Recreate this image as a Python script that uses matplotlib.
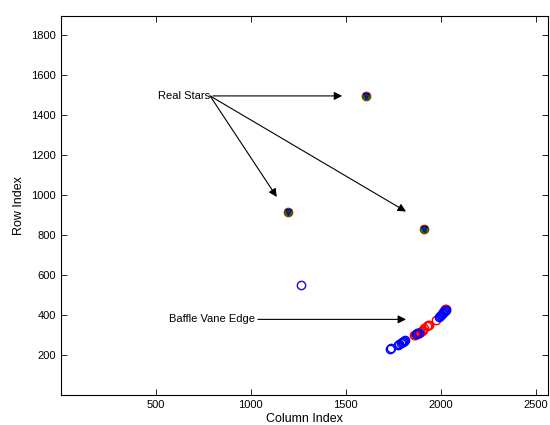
import matplotlib
matplotlib.use('Agg')
import matplotlib.pyplot as plt

# star detections (three overlaid markers each)
star_x = [1608, 1198, 1913]
star_y = [1497, 913, 832]

# lone detection
lone_x = [1266]
lone_y = [548]

# baffle vane edge detections
blue_x = [1735, 1738, 1775, 1780, 1790, 1795, 1800, 1805, 1808, 1815, 1870, 1878, 1885,
          1990, 1995, 2000, 2005, 2010, 2015, 2018, 2022, 2028]
blue_y = [232, 234, 252, 255, 262, 264, 266, 268, 270, 276, 305, 308, 312,
          392, 396, 402, 405, 410, 414, 418, 422, 426]
red_x = [1860, 1865, 1875, 1880, 1885, 1890, 1900, 1905, 1915, 1930, 1935, 1940, 1976, 2025, 2030]
red_y = [300, 302, 306, 309, 312, 316, 320, 324, 335, 346, 349, 352, 375, 428, 432]

plt.rcParams['font.family'] = ['Liberation Sans', 'DejaVu Sans']
plt.rcParams['font.size'] = 8

fig = plt.figure(figsize=(5.5, 4.25), dpi=100)
ax = fig.add_axes([0.11, 0.0706, 0.8864, 0.892])

ax.plot(red_x, red_y, 'o', mfc='none', mec='red', ms=6, mew=1)
ax.plot(blue_x, blue_y, 'o', mfc='none', mec='blue', ms=6, mew=1)
ax.plot(lone_x, lone_y, 'o', mfc='none', mec='blue', ms=6, mew=1)
ax.plot(lone_x, lone_y, 'o', mfc='none', mec='red', ms=6, mew=0.4, alpha=0.6)

ax.plot(star_x, star_y, 'o', mfc='none', mec='red', ms=6, mew=1)
ax.plot(star_x, star_y, 'o', mfc='green', mec='green', ms=5)
ax.plot(star_x, star_y, 'v', mfc='#2020c0', mec='#101060', ms=5, mew=0.8)

arrow = dict(arrowstyle='-|>', color='k', lw=0.8, mutation_scale=12, shrinkA=0, shrinkB=0)
ax.annotate('Real Stars', xy=(1482, 1495), xytext=(787, 1495), ha='right', va='center', arrowprops=arrow)
ax.annotate('', xy=(1138, 990), xytext=(787, 1495), arrowprops=arrow)
ax.annotate('', xy=(1818, 917), xytext=(787, 1495), arrowprops=arrow)
ax.annotate('Baffle Vane Edge', xy=(1818, 378), xytext=(1024, 378), ha='right', va='center', arrowprops=arrow)

ax.set_xlim(0, 2565)
ax.set_ylim(0, 1895)
ax.set_xticks([500, 1000, 1500, 2000, 2500])
ax.set_yticks([200, 400, 600, 800, 1000, 1200, 1400, 1600, 1800])
ax.tick_params(direction='in', top=True, right=True, length=4, width=0.6)
for s in ax.spines.values():
    s.set_linewidth(0.8)
ax.set_xlabel('Column Index', fontsize=9, labelpad=2)
ax.set_ylabel('Row Index', fontsize=9, labelpad=4)

fig.savefig('out.png', dpi=100)
